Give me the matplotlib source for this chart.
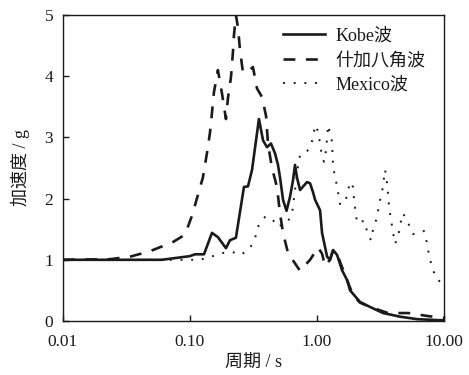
import matplotlib
matplotlib.use("Agg")
import matplotlib.pyplot as plt
from matplotlib.ticker import FixedLocator, FixedFormatter, NullLocator

plt.rcParams['font.family'] = ['Liberation Serif', 'Noto Sans CJK SC']

# Kobe wave
kobe_T = [0.01, 0.03, 0.06, 0.0776, 0.1, 0.1094, 0.129, 0.149, 0.166, 0.192, 0.2065,
          0.23, 0.266, 0.2863, 0.308, 0.349, 0.376, 0.404, 0.434, 0.467, 0.493, 0.511,
          0.540, 0.575, 0.613, 0.647, 0.671, 0.696, 0.735, 0.834, 0.881, 0.931, 0.965,
          1.056, 1.095, 1.2, 1.265, 1.336, 1.437, 1.573, 1.722, 1.82, 2.18, 2.61, 3.31,
          4.51, 6.13, 10.0]
kobe_v = [1.0, 1.0, 1.0, 1.03, 1.06, 1.09, 1.09, 1.44, 1.37, 1.19, 1.32,
          1.36, 2.19, 2.2, 2.47, 3.3, 2.95, 2.84, 2.9, 2.74, 2.55, 2.35,
          1.98, 1.8, 2.03, 2.3, 2.55, 2.34, 2.14, 2.27, 2.25, 2.1, 1.98,
          1.81, 1.44, 1.05, 1.0, 1.16, 1.08, 0.83, 0.67, 0.5, 0.31, 0.23, 0.13,
          0.07, 0.03, 0.01]

# Shijiabajiao wave
sjb_T = [0.01, 0.0234, 0.0337, 0.0484, 0.0735, 0.0914, 0.1037, 0.1156, 0.1266, 0.136,
         0.1436, 0.149, 0.1545, 0.166, 0.1786, 0.192, 0.199, 0.2104, 0.218, 0.222, 0.23,
         0.239, 0.2475, 0.261, 0.2863, 0.313, 0.337, 0.369, 0.397, 0.411, 0.442, 0.484,
         0.511, 0.540, 0.591, 0.735, 0.881, 1.019, 1.095, 1.156, 1.265, 1.336, 1.463,
         1.722, 1.92, 2.18, 2.61, 3.62, 5.21, 7.48, 10.0]
sjb_v = [1.0, 1.01, 1.05, 1.14, 1.29, 1.41, 1.72, 2.06, 2.35, 2.74,
         3.07, 3.4, 3.74, 4.1, 3.72, 3.3, 3.64, 3.99, 4.4, 4.67, 5.0,
         4.79, 4.43, 4.07, 4.07, 4.15, 3.8, 3.66, 3.35, 2.9, 2.5, 2.19,
         1.76, 1.44, 1.11, 0.82, 1.0, 1.2, 1.1, 0.9, 1.0, 1.15, 1.05,
         0.67, 0.42, 0.3, 0.23, 0.13, 0.13, 0.08, 0.05]

# Mexico wave
mex_T = [0.01, 0.0964, 0.12, 0.152, 0.1786, 0.2143, 0.252, 0.297, 0.325, 0.343, 0.39,
         0.442, 0.484, 0.581, 0.636, 0.708, 0.735, 0.805, 0.881, 0.931, 0.965, 1.019,
         1.056, 1.095, 1.135, 1.177, 1.2, 1.222, 1.312, 1.336, 1.437, 1.517, 1.661,
         1.82, 1.92, 1.955, 2.065, 2.26, 2.39, 2.48, 2.66, 2.76, 2.97, 3.08, 3.25, 3.43,
         3.56, 3.69, 3.96, 4.11, 4.34, 4.51, 4.75, 5.21, 5.7, 6.35, 6.96, 7.35, 7.62,
         8.05, 8.65, 9.64, 10.0]
mex_v = [1.0, 1.0, 1.0, 1.06, 1.11, 1.13, 1.08, 1.19, 1.35, 1.54, 1.7,
         1.68, 1.54, 1.6, 1.76, 2.52, 2.71, 2.74, 2.83, 3.0, 3.2, 3.1,
         2.9, 2.68, 2.6, 2.79, 3.0, 3.2, 2.93, 2.52, 2.2, 1.91, 1.93,
         2.27, 2.19, 1.98, 1.6, 1.63, 1.63, 1.44, 1.32, 1.5, 1.7, 1.91, 2.11, 2.47,
         2.25, 1.86, 1.45, 1.26, 1.37, 1.58, 1.76, 1.6, 1.42, 1.45, 1.47, 1.26, 1.06,
         0.88, 0.69, 0.62, 0.6]

series_labels = ['Kobe波', '什加八角波', 'Mexico波']
x_ticks = [0.01, 0.1, 1.0, 10.0]
x_tick_labels = ['0.01', '0.10', '1.00', '10.00']
y_ticks = [0, 1, 2, 3, 4, 5]

fig = plt.figure(figsize=(4.69, 3.75), dpi=100)
ax = fig.add_axes([0.134, 0.144, 0.813, 0.816])

ax.plot(kobe_T, kobe_v, color='#1a1a1a', lw=1.9, ls='-', label=series_labels[0])
ax.plot(sjb_T, sjb_v, color='#1a1a1a', lw=1.9, ls=(0, (4.5, 4)), label=series_labels[1])
ax.plot(mex_T, mex_v, color='#1a1a1a', lw=1.4, ls=(0, (1, 4.5)), label=series_labels[2])

ax.set_xscale('log')
ax.set_xlim(0.01, 10)
ax.set_ylim(0, 5)
ax.xaxis.set_major_locator(FixedLocator(x_ticks))
ax.xaxis.set_major_formatter(FixedFormatter(x_tick_labels))
ax.xaxis.set_minor_locator(NullLocator())
ax.set_yticks(y_ticks)
ax.tick_params(direction='in', length=4, width=1, labelsize=12.5, colors='#1a1a1a')
ax.tick_params(axis='x', pad=9)
ax.tick_params(axis='y', pad=7)
for s in ax.spines.values():
    s.set_linewidth(1.0)
    s.set_color('#1a1a1a')

ax.set_xlabel('周期 / s', fontsize=13, color='#1a1a1a', labelpad=4)
ax.set_ylabel('加速度 / g', fontsize=13, color='#1a1a1a', labelpad=10)

leg = ax.legend(loc='upper right', frameon=False, fontsize=13, handlelength=2.3,
                handletextpad=0.6, labelspacing=0.42, borderaxespad=0.3,
                bbox_to_anchor=(0.985, 1.0))
for t in leg.get_texts():
    t.set_color('#1a1a1a')

fig.savefig('out.png', dpi=100)
